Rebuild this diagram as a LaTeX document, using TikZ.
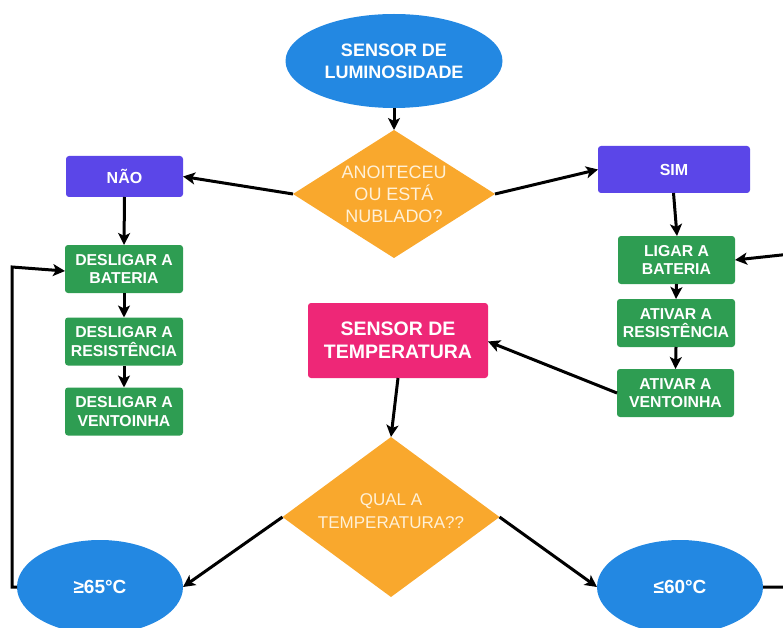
\documentclass[tikz,border=0pt]{standalone}
\usepackage{fontspec}
\setmainfont{Liberation Sans}
\usetikzlibrary{shapes.geometric,arrows.meta}
\definecolor{cblue}{HTML}{2388E2}
\definecolor{cpurple}{HTML}{5B46E8}
\definecolor{cgreen}{HTML}{2E9D52}
\definecolor{cpink}{HTML}{EE2777}
\definecolor{corange}{HTML}{F9A82D}
\definecolor{ccream}{HTML}{FFF1D8}
\begin{document}
\begin{tikzpicture}[x=1pt,y=-1pt,
  base/.style={inner sep=0pt, outer sep=0pt, align=center, text=white},
  oval/.style={base, ellipse, fill=cblue, font=\bfseries\fontsize{18}{22}\selectfont},
  purplebox/.style={base, rectangle, rounded corners=3pt, fill=cpurple, font=\bfseries\fontsize{16}{18}\selectfont},
  greenbox/.style={base, rectangle, rounded corners=3pt, fill=cgreen, minimum width=118pt, minimum height=48pt, font=\bfseries\fontsize{15.8}{18.5}\selectfont},
  pinkbox/.style={base, rectangle, rounded corners=3pt, fill=cpink, font=\bfseries\fontsize{19.5}{23}\selectfont},
  decision/.style={base, diamond, fill=corange},
  dtext/.style={base, text=ccream},
  arr/.style={-{Stealth[length=12pt,width=12pt,inset=3pt]}, line width=3pt, black},
]
\useasboundingbox (0,0) rectangle (783,628);
\clip (0,0) rectangle (783,628);

\node[oval, minimum width=217pt, minimum height=94pt] (lum) at (394,61) {SENSOR DE\\LUMINOSIDADE};
\node[decision, minimum width=202pt, minimum height=128pt] (d1) at (394,194) {};
\node[dtext, font=\fontsize{18}{22}\selectfont] (d1t) at (394,194) {ANOITECEU\\OU ESTÁ\\NUBLADO?};

\node[purplebox, minimum width=117pt, minimum height=41pt] (nao) at (124.5,176.5) {NÃO};
\node[purplebox, minimum width=152pt, minimum height=47pt] (sim) at (674,169.5) {SIM};

\node[greenbox] (db) at (124,269) {DESLIGAR A\\BATERIA};
\node[greenbox] (dr) at (124,341.5) {DESLIGAR A\\RESISTÊNCIA};
\node[greenbox] (dv) at (124,411.5) {DESLIGAR A\\VENTOINHA};

\node[greenbox, minimum width=117pt] (lb) at (676.5,260) {LIGAR A\\BATERIA};
\node[greenbox] (ar) at (676,323) {ATIVAR A\\RESISTÊNCIA};
\node[greenbox, minimum width=117pt] (av) at (675.5,393) {ATIVAR A\\VENTOINHA};

\node[pinkbox, minimum width=180pt, minimum height=75pt] (st) at (398,340.5) {SENSOR DE\\TEMPERATURA};

\node[decision, minimum width=217pt, minimum height=160pt] (d2) at (391,517) {};
\node[dtext, font=\fontsize{17}{23}\selectfont] (d2t) at (391,511) {QUAL A\\TEMPERATURA??};

\node[oval, minimum width=166pt, minimum height=94pt, font=\bfseries\fontsize{19}{22}\selectfont] (hot) at (100,587) {≥65°C};
\node[oval, minimum width=166pt, minimum height=94pt, font=\bfseries\fontsize{19}{22}\selectfont] (cold) at (680,587) {≤60°C};

\draw[arr] (lum.south) -- (d1.north);
\draw[arr] (d1.west) -- (nao.east);
\draw[arr] (d1.east) -- (sim.west);
\draw[arr] (nao.south) -- (db.north);
\draw[arr] (db.south) -- (dr.north);
\draw[arr] (dr.south) -- (dv.north);
\draw[arr] ([xshift=-0.5pt]sim.south) -- ([xshift=0.5pt]lb.north);
\draw[arr] (lb.south) -- (ar.north);
\draw[arr] (ar.south) -- (av.north);
\draw[arr] (av.west) -- ([yshift=-1pt]st.east);
\draw[arr] (st.south) -- (d2.north);
\draw[arr] (d2.west) -- (hot.east);
\draw[arr] (d2.east) -- (cold.west);

\coordinate (lftA) at (12,587);
\coordinate (lftB) at (12,267);
\draw[arr] (hot.west) -- (lftA) -- (lftB) -- ([yshift=-2pt]db.west);

\coordinate (rgtA) at (800,587);
\coordinate (rgtB) at (800,253);
\draw[arr] (cold.east) -- (rgtA) -- (rgtB) -- (lb.east);
\end{tikzpicture}
\end{document}
